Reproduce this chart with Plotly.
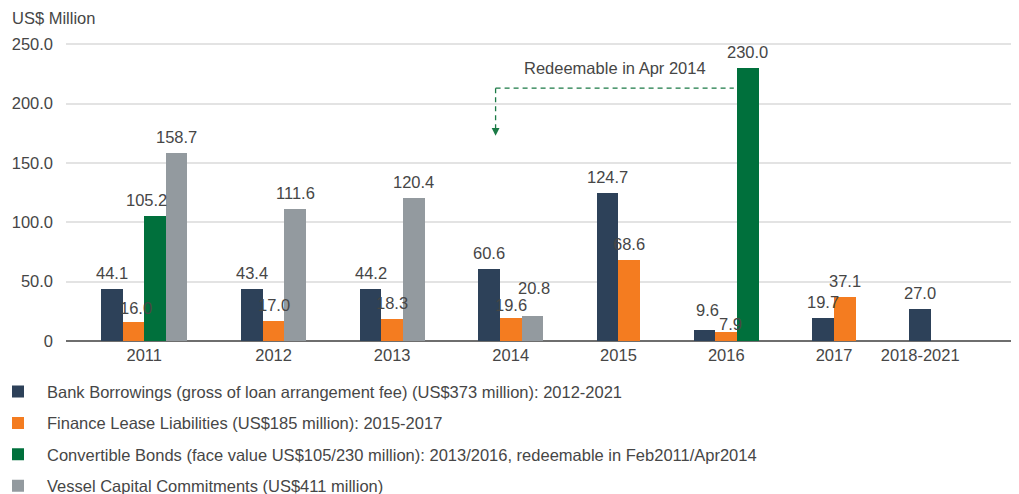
import plotly.graph_objects as go

categories = ["2011", "2012", "2013", "2014", "2015", "2016", "2017", "2018-2021"]
bank = [44.1, 43.4, 44.2, 60.6, 124.7, 9.6, 19.7, 27.0]
lease = [16.0, 17.0, 18.3, 19.6, 68.6, 7.9, 37.1, None]
bonds = [105.2, None, None, None, None, 230.0, None, None]
vessel = [158.7, 111.6, 120.4, 20.8, None, None, None, None]

series_names = [
    "Bank Borrowings (gross of loan arrangement fee) (US$373 million): 2012-2021",
    "Finance Lease Liabilities (US$185 million): 2015-2017",
    "Convertible Bonds (face value US$105/230 million): 2013/2016, redeemable in Feb2011/Apr2014",
    "Vessel Capital Commitments (US$411 million)",
]
series_values = [bank, lease, bonds, vessel]
colors = ["#2d4159", "#f47c20", "#00703c", "#939a9f"]

y_ticks = [0, 50, 100, 150, 200, 250]
y_ticktext = ["0" if v == 0 else f"{v:.1f}" for v in y_ticks]

annotation_text = "Redeemable in Apr 2014"
annotation_level = 213  # value level of the dashed bracket
annotation_tip = 173

# style: pixel nudges for value labels that would collide (series index, category)
label_nudge = {
    (3, "2014"): (2, 12),
    (1, "2014"): (0, -3),
    (0, "2016"): (3, 4),
    (1, "2016"): (4, -8),
    (2, "2011"): (-8, 0),
    (1, "2011"): (3, -2),
}

# --- packed group layout: bars of each category sit side by side, missing series skipped
GAP = 2.49
positions = [[None] * len(categories) for _ in series_values]
centers = []
start = 0.0
for ci in range(len(categories)):
    present = [si for si, s in enumerate(series_values) if s[ci] is not None]
    for k, si in enumerate(present):
        positions[si][ci] = start + k + 0.5
    centers.append(start + len(present) / 2)
    start += len(present) + GAP
last_end = start - GAP

# page is drawn with the browser's default 8px body margin
OFF = 8
W, H = 1019, 494
L, R, T = 66 - OFF, OFF, 30 - OFF
ZERO_Y = 340.8 - OFF
B = H - ZERO_Y
PW, PH = W - L - R, H - T - B
px_per_val = (340.8 - 44.3) / 250
px_per_unit = (931 - 101) / last_end
x_left = -(101 - 66) / px_per_unit
x_right = x_left + PW / px_per_unit
y_top = PH / px_per_val

fig = go.Figure()
font_family = "Liberation Sans, Arial, sans-serif"
txt_color = "#464646"
FS = 16.5

for si, (name, vals) in enumerate(zip(series_names, series_values)):
    xs = [positions[si][i] for i in range(len(categories)) if vals[i] is not None]
    ys = [v for v in vals if v is not None]
    fig.add_trace(go.Bar(
        x=xs, y=ys, width=1.0, name=name,
        marker=dict(color=colors[si], line=dict(width=0)),
        legendgroup=str(si), hoverinfo="skip",
    ))

# value labels (annotations sit above all bars)
for si, vals in enumerate(series_values):
    for ci, v in enumerate(vals):
        if v is None:
            continue
        dx, dy = label_nudge.get((si, categories[ci]), (0, 0))
        fig.add_annotation(
            x=positions[si][ci], y=v, xref="x", yref="y", text=f"{v:.1f}",
            showarrow=False, yanchor="bottom", xanchor="center",
            xshift=dx, yshift=5 + dy,
            font=dict(size=FS, color=txt_color, family=font_family),
        )

# dashed bracket from 2014 group to the 2016 convertible bond bar
i14 = categories.index("2014")
i16 = categories.index("2016")
x_start = positions[0][i14] + 0.3
x_end = positions[2][i16] - 0.65
green_line = dict(color="#1b7a46", width=1.3, dash="5px,4px")
fig.add_shape(type="line", x0=x_start, x1=x_end, y0=annotation_level, y1=annotation_level,
              line=green_line)
fig.add_shape(type="line", x0=x_start, x1=x_start, y0=annotation_level, y1=annotation_tip + 5,
              line=green_line)
fig.add_annotation(x=x_start, y=annotation_tip, ax=x_start, ay=annotation_tip + 6,
                   xref="x", yref="y", axref="x", ayref="y", text="", showarrow=True,
                   arrowhead=2, arrowsize=1.2, arrowwidth=1.3, arrowcolor="#1b7a46")
fig.add_annotation(x=(x_start + x_end) / 2, y=annotation_level + 17, xref="x", yref="y",
                   text=annotation_text, showarrow=False,
                   font=dict(size=FS, color=txt_color, family=font_family))

fig.add_annotation(x=(10 - OFF - L) / PW, y=1 + (T - (18 - OFF)) / PH,
                   xref="paper", yref="paper",
                   text="US$ Million", showarrow=False, xanchor="left", yanchor="middle",
                   font=dict(size=FS, color=txt_color, family=font_family))

fig.update_layout(
    width=W, height=H, margin=dict(l=L, r=R, t=T, b=B, autoexpand=False),
    paper_bgcolor="white", plot_bgcolor="white",
    barmode="overlay", bargap=0,
    font=dict(family=font_family, color=txt_color, size=FS),
    xaxis=dict(range=[x_left, x_right], tickvals=centers, ticktext=categories,
               showgrid=False, zeroline=False, showline=False, ticks="",
               ticklabelstandoff=2,
               tickfont=dict(size=FS, color=txt_color)),
    yaxis=dict(range=[0, y_top], tickvals=y_ticks, ticktext=y_ticktext,
               showgrid=True, gridcolor="#e3e3e3", gridwidth=1.5,
               zeroline=True, zerolinecolor="#6e6e6e", zerolinewidth=2,
               showline=False, ticks="", ticklabelstandoff=12,
               tickfont=dict(size=FS, color=txt_color)),
    showlegend=True,
    legend=dict(orientation="v", x=(-19 - L) / PW, xanchor="left", y=-33.2 / PH,
                yanchor="top", tracegroupgap=7, traceorder="grouped", itemwidth=48,
                font=dict(size=FS, color=txt_color, family=font_family),
                bgcolor="rgba(0,0,0,0)"),
)

fig.write_html("out.html")
